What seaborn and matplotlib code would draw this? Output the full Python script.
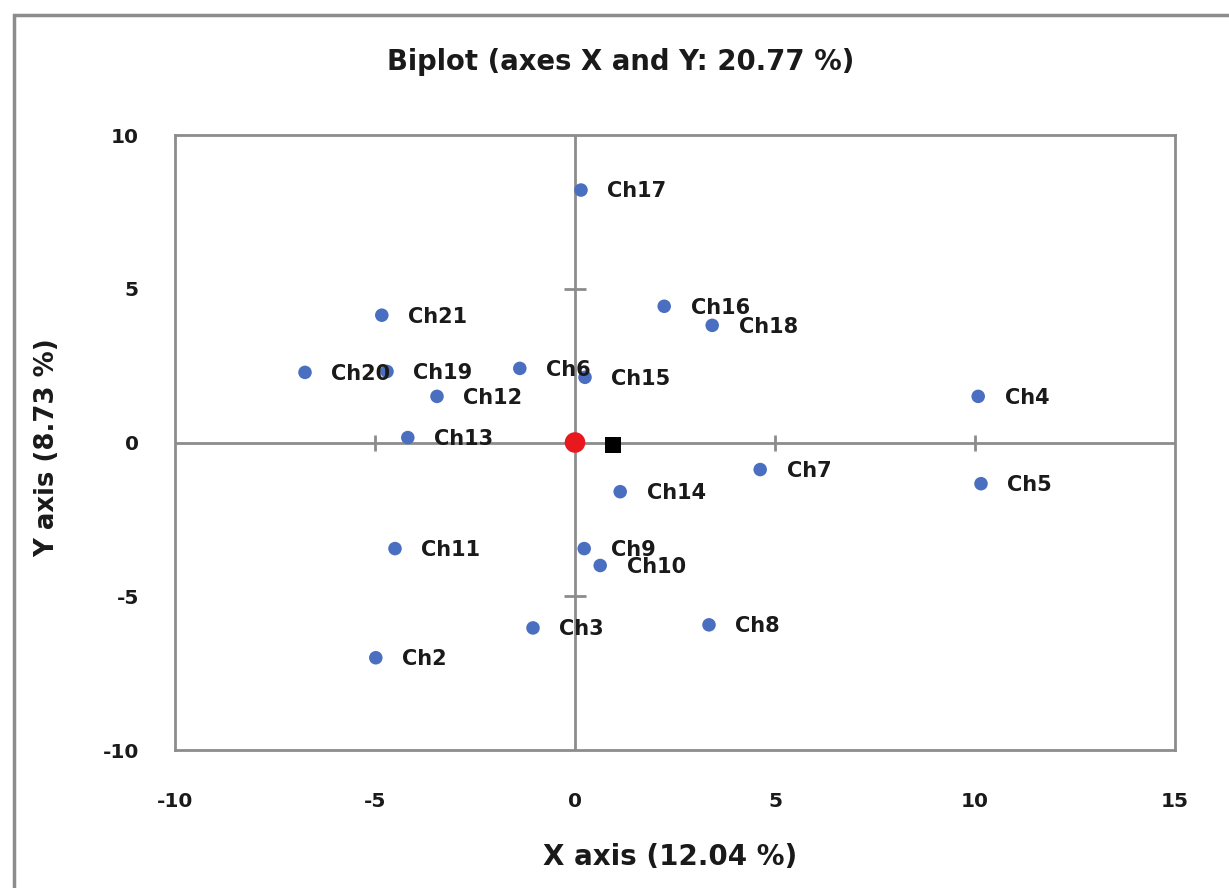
import matplotlib
matplotlib.use("Agg")
import matplotlib.pyplot as plt
from matplotlib.patches import Rectangle
import seaborn as sns
import pandas as pd

# Biplot coordinates of the characters (Ch2..Ch21)
labels = ["Ch17", "Ch16", "Ch18", "Ch21", "Ch20", "Ch19", "Ch6", "Ch15", "Ch12", "Ch4",
          "Ch13", "Ch7", "Ch5", "Ch14", "Ch11", "Ch9", "Ch10", "Ch3", "Ch8", "Ch2"]
x_vals = [0.15, 2.23, 3.43, -4.83, -6.75, -4.70, -1.38, 0.25, -3.45, 10.08,
          -4.18, 4.63, 10.15, 1.13, -4.50, 0.23, 0.63, -1.05, 3.35, -4.98]
y_vals = [8.21, 4.43, 3.81, 4.14, 2.28, 2.31, 2.41, 2.12, 1.50, 1.50,
          0.16, -0.88, -1.34, -1.60, -3.45, -3.45, -4.00, -6.03, -5.93, -7.00]

# Origin and centroid markers
origin = (0.0, 0.0)
centroid = (0.95, -0.08)

x_ticks = [-10, -5, 0, 5, 10, 15]
y_ticks = [-10, -5, 0, 5, 10]
axis_marks_x = [-5, 5, 10]
axis_marks_y = [-5, 5]

title = "Biplot (axes X and Y: 20.77 %)"
x_title = "X axis (12.04 %)"
y_title = "Y axis (8.73 %)"

sns.set_style("white")
plt.rcParams["font.family"] = ["DejaVu Sans"]

df = pd.DataFrame({"x": x_vals, "y": y_vals, "label": labels})

fig = plt.figure(figsize=(12.29, 8.88), dpi=100)
ax = fig.add_axes([175 / 1229, 1 - 750 / 888, 1000 / 1229, 615 / 888])

ax.set_xlim(-10, 15)
ax.set_ylim(-10, 10)

grey = "#8c8c8c"

# Axis lines through the origin with cross tick marks
ax.axhline(0, color=grey, lw=2, zorder=1)
ax.axvline(0, color=grey, lw=2, zorder=1)
ax.scatter(axis_marks_x, [0] * len(axis_marks_x), marker="|", s=130, color=grey,
           linewidths=2, zorder=1)
ax.scatter([0] * len(axis_marks_y), axis_marks_y, marker="_", s=250, color=grey,
           linewidths=2, zorder=1)

sns.scatterplot(data=df, x="x", y="y", ax=ax, color="#4a6fc0", s=95, marker="o",
                edgecolor="none", zorder=3, legend=False)

for _, r in df.iterrows():
    ax.annotate(r["label"], (r["x"], r["y"]), xytext=(19, -1), textcoords="offset points",
                va="center", ha="left", fontsize=15, fontweight="bold",
                color="#1a1a1a", zorder=4)

ax.scatter([origin[0]], [origin[1]], marker="o", s=220, color="#e8191e", edgecolor="none", zorder=5)
ax.scatter([centroid[0]], [centroid[1]], marker="s", s=140, color="black", edgecolor="none", zorder=5)

ax.set_xticks(x_ticks)
ax.set_yticks(y_ticks)
ax.set_xticklabels([str(t) for t in x_ticks])
ax.set_yticklabels([str(t) for t in y_ticks])
ax.tick_params(axis="x", length=0, pad=30)
ax.tick_params(axis="y", length=0, pad=26)
for lab in ax.get_xticklabels() + ax.get_yticklabels():
    lab.set_fontweight("bold")
    lab.set_fontsize(14.5)
    lab.set_color("#1a1a1a")

for s in ax.spines.values():
    s.set_color(grey)
    s.set_linewidth(2)

ax.set_xlabel("")
ax.set_ylabel("")
fig.text(670 / 1229, 1 - 857 / 888, x_title, ha="center", va="center",
         fontweight="bold", fontsize=20, color="#1a1a1a")
fig.text(47 / 1229, 1 - 448 / 888, y_title, ha="center", va="center", rotation=90,
         fontweight="bold", fontsize=18.7, color="#1a1a1a")
fig.text(621 / 1229, 1 - 62 / 888, title, ha="center", va="center",
         fontweight="bold", fontsize=19.8, color="#1a1a1a")

# Outer chart border
fig.patches.append(Rectangle((14 / 1229, -0.05), 1.2, 1 - 15 / 888 + 0.05,
                             transform=fig.transFigure, fill=False,
                             edgecolor=grey, lw=2.5))

fig.savefig("out.png", dpi=100)
